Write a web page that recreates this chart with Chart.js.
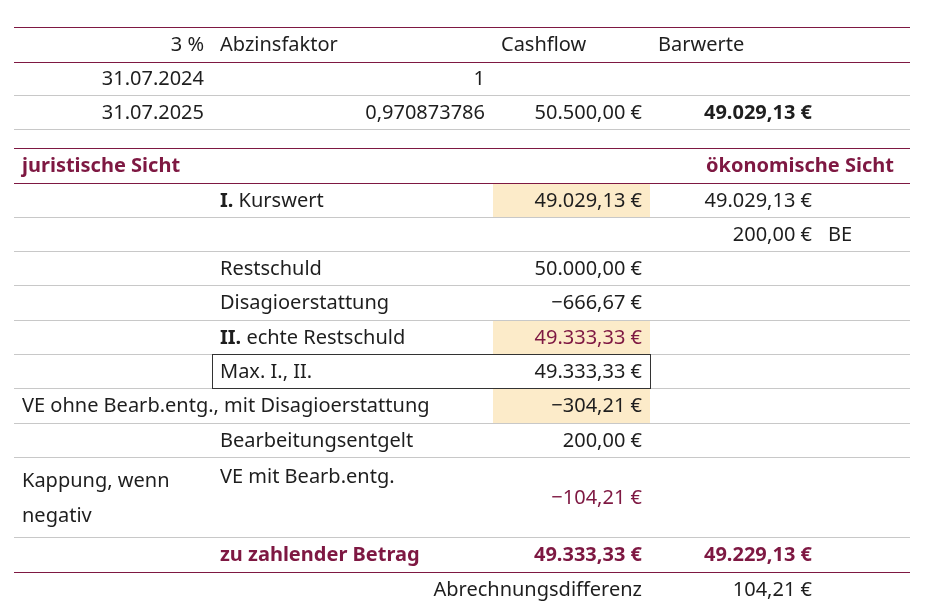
<!DOCTYPE html>
<html><head><meta charset="utf-8">
<script src="https://cdn.jsdelivr.net/npm/chart.js@4"></script>
<style>body{margin:0;background:#fff}#wrap{width:940px;height:615px}</style>
</head><body><div id="wrap"><canvas id="c"></canvas></div>
<script>
// table grid (row edges top->bottom, column edges left->right)
const rowEdges = [27, 62, 95, 129, 148, 183, 217, 251, 285, 320, 354, 388, 423, 457, 537, 572, 606]
const edgeColors = ['p','p','g','g','p','p','g','g','g','g','g','g','g','g','g','p','n']
const colEdges = [14, 212, 493, 650, 820, 910]

// cell contents: [row, text, style]  n normal, b bold, r red, rb red bold, L left, R span right, T top
const colA = [[0,'3 %','n'],[1,'31.07.2024','n'],[2,'31.07.2025','n'],[4,'juristische Sicht','rbL'],[11,'VE ohne Bearb.entg., mit Disagioerstattung','nL'],[13,'Kappung, wenn|negativ','nL']]
const colB = [[0,'Abzinsfaktor','nL'],[1,'1','n'],[2,'0,970873786','n'],[5,'**I.** Kurswert','nL'],[7,'Restschuld','nL'],[8,'Disagioerstattung','nL'],[9,'**II.** echte Restschuld','nL'],[10,'Max. I., II.','nL'],[12,'Bearbeitungsentgelt','nL'],[13,'VE mit Bearb.entg.','nLT'],[14,'zu zahlender Betrag','rbL']]
const colC = [[0,'Cashflow','nL'],[2,'50.500,00 €','n'],[5,'49.029,13 €','n'],[7,'50.000,00 €','n'],[8,'−666,67 €','n'],[9,'49.333,33 €','r'],[10,'49.333,33 €','n'],[11,'−304,21 €','n'],[12,'200,00 €','n'],[13,'−104,21 €','r'],[14,'49.333,33 €','rb'],[15,'Abrechnungsdifferenz','n']]
const colD = [[0,'Barwerte','nL'],[2,'49.029,13 €','b'],[4,'ökonomische Sicht','rbR'],[5,'49.029,13 €','n'],[6,'200,00 €','n'],[14,'49.229,13 €','rb'],[15,'104,21 €','n']]
const colE = [[6,'BE','nL']]
const highlights = [[5,2],[9,2],[11,2]]   // [row, col]
const boxed = [10]

const PURPLE = '#7e1842', DARK = '#1e1e1e', FONT = '"Noto Sans", sans-serif'

const tablePlugin = {
  id: 'table',
  afterDatasetsDraw(chart) {
    const ctx = chart.ctx, xs = chart.scales.x, ys = chart.scales.y
    const X = v => xs.getPixelForValue(v), Y = v => ys.getPixelForValue(v)
    ctx.save()
    highlights.forEach(([r, c]) => {
      ctx.fillStyle = '#fcebc9'
      ctx.fillRect(X(colEdges[c]), Y(rowEdges[r]) + 1, X(colEdges[c + 1]) - X(colEdges[c]), Y(rowEdges[r + 1]) - Y(rowEdges[r]) - 1)
    })
    rowEdges.forEach((e, i) => {
      if (edgeColors[i] === 'n') return
      ctx.strokeStyle = edgeColors[i] === 'p' ? PURPLE : '#c8c8c8'
      ctx.lineWidth = 1
      ctx.beginPath(); ctx.moveTo(X(colEdges[0]), Y(e) + 0.5); ctx.lineTo(X(colEdges[5]), Y(e) + 0.5); ctx.stroke()
    })
    boxed.forEach(r => {
      ctx.strokeStyle = '#333'; ctx.lineWidth = 1
      ctx.strokeRect(X(colEdges[1]) + 0.5, Y(rowEdges[r]) + 0.5, X(colEdges[3]) - X(colEdges[1]), Y(rowEdges[r + 1]) - Y(rowEdges[r]))
    })
    const draw = (col, list) => list.forEach(([r, text, st]) => {
      const red = st[0] === 'r', bold = st.includes('b')
      const left = st.includes('L'), right = st.includes('R')
      let y = (Y(rowEdges[r]) + Y(rowEdges[r + 1])) / 2 + 1
      if (st.includes('T')) y = Y(rowEdges[r]) + 20
      ctx.fillStyle = red ? PURPLE : DARK
      ctx.textBaseline = 'middle'
      ctx.textAlign = 'left'
      const lines = text.split('|')
      lines.forEach((ln, k) => {
        const ly = lines.length > 1 ? Y(rowEdges[r]) + 24 + k * 35 : y
        let x = left ? X(colEdges[col]) + 8 : X(colEdges[col + 1]) - 8
        if (right) x = X(colEdges[col + 2]) - 16
        const parts = ln.split('**').map((p, i) => ({ p, b: bold || i % 2 === 1 }))
        const fnt = q => (q.b ? 'bold ' : '') + '20px ' + FONT
        const w = parts.reduce((s, q) => { ctx.font = fnt(q); return s + ctx.measureText(q.p).width }, 0)
        let cx = (left && !right) ? x : x - w
        parts.forEach(q => {
          ctx.font = fnt(q)
          ctx.fillText(q.p, cx, ly)
          cx += ctx.measureText(q.p).width
        })
      })
    })
    draw(0, colA); draw(1, colB); draw(2, colC); draw(3, colD); draw(4, colE)
    ctx.restore()
  }
}

new Chart(document.getElementById('c'), {
  type: 'scatter',
  data: { datasets: [{ data: [] }] },
  options: {
    responsive: true, maintainAspectRatio: false, animation: false,
    layout: { padding: 0 },
    plugins: { legend: { display: false }, tooltip: { enabled: false } },
    scales: {
      x: { type: 'linear', min: 0, max: 940, display: false },
      y: { type: 'linear', min: 0, max: 615, reverse: true, display: false }
    }
  },
  plugins: [tablePlugin]
})
</script></body></html>
